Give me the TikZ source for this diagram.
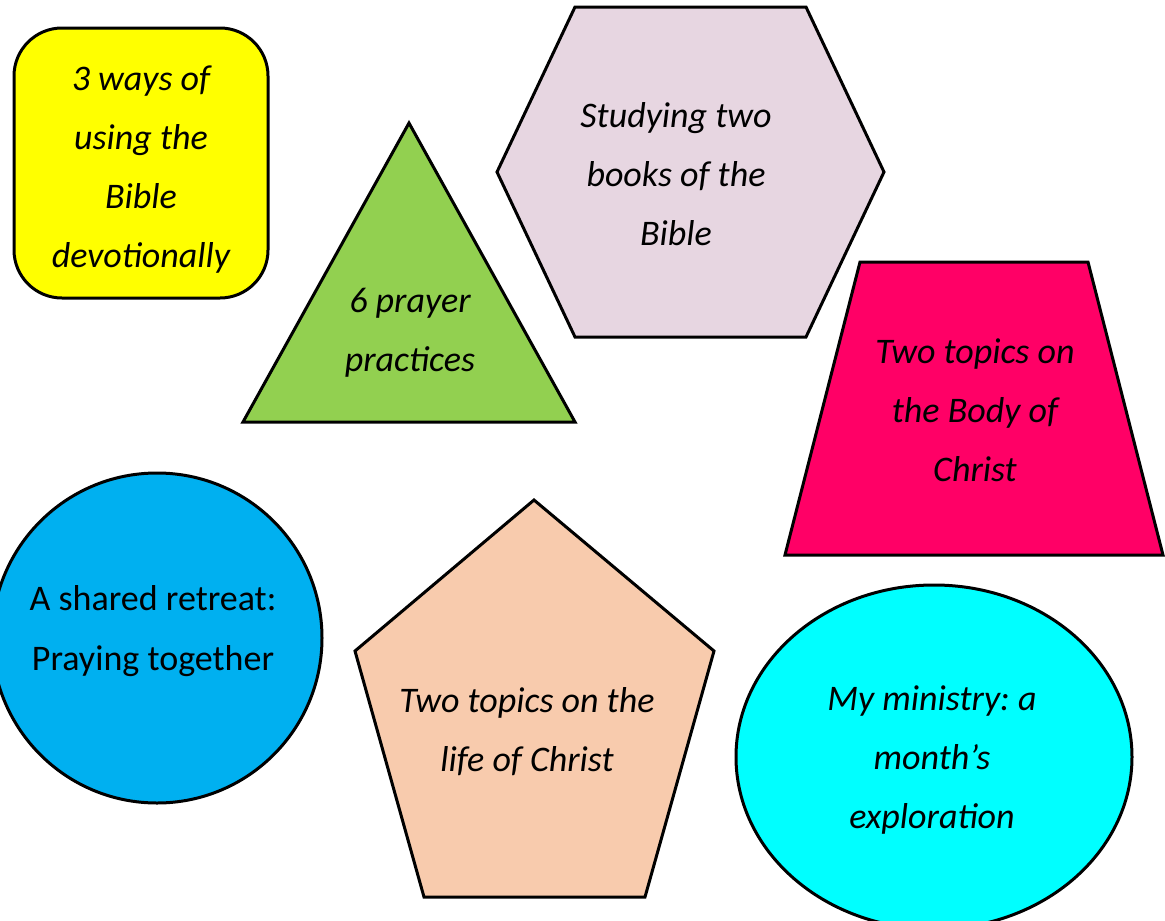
\documentclass[tikz,border=0pt]{standalone}
\usepackage{fontspec}
\setmainfont{Carlito}
\usepackage{tikz}
\usetikzlibrary{positioning}

\definecolor{waysyellow}{HTML}{FFFF00}
\definecolor{prayergreen}{HTML}{92D050}
\definecolor{bookslilac}{HTML}{E7D6E1}
\definecolor{bodypink}{HTML}{FF0066}
\definecolor{retreatblue}{HTML}{00B0F0}
\definecolor{lifepeach}{HTML}{F8CBAD}
\definecolor{ministrycyan}{HTML}{00FFFF}

\frenchspacing
\tikzset{
  outline/.style={draw=black, line width=3pt},
  caption/.style={anchor=base, inner sep=0pt, text width=320pt, align=flush center,
    font=\fontsize{36}{59}\selectfont\itshape},
}

\begin{document}
\begin{tikzpicture}[x=1pt, y=-1pt]
    \path [use as bounding box] (0,0) rectangle (1165,921);
    \clip (0,0) rectangle (1165,921);

    % Rounded box
    \draw [outline, fill=waysyellow, rounded corners=48pt] (14,28) rectangle (268,298);
    \node (ways) [caption] at (141,90) {3 ways of\\ using the\\ Bible\\ devotionally};

    % Triangle
    \draw [outline, fill=prayergreen] (409,123) -- (575,422) -- (243,422) -- cycle;
    \node (prayer) [caption] at (410,312) {6 prayer\\ practices};

    % Hexagon
    \draw [outline, fill=bookslilac] (497,172) -- (575,7) -- (806,7) -- (884,172) -- (806,337) -- (575,337) -- cycle;
    \node (books) [caption] at (676,127) {Studying two\\ books of the\\ Bible};

    % Trapezoid
    \draw [outline, fill=bodypink] (860,262) -- (1088,262) -- (1163,555) -- (785,555) -- cycle;
    \node (body) [caption] at (975,363) {Two topics on\\ the Body of\\ Christ};

    % Circle (cut at the left edge)
    \draw [outline, fill=retreatblue] (157,638) circle [radius=165];
    \node (retreat) [caption, font=\fontsize{36}{60}\selectfont] at (153,610) {A shared retreat:\\ Praying together};

    % Pentagon
    \draw [outline, fill=lifepeach] (534,500) -- (714,651) -- (645,897) -- (424,897) -- (355,651) -- cycle;
    \node (life) [caption] at (527,712) {Two topics on the\\ life of Christ};

    % Ellipse (cut at the bottom edge)
    \draw [outline, fill=ministrycyan] (934,757) ellipse [x radius=198, y radius=172];
    \node (ministry) [caption] at (932,710) {My ministry: a\\ month’s\\ exploration};
\end{tikzpicture}
\end{document}
